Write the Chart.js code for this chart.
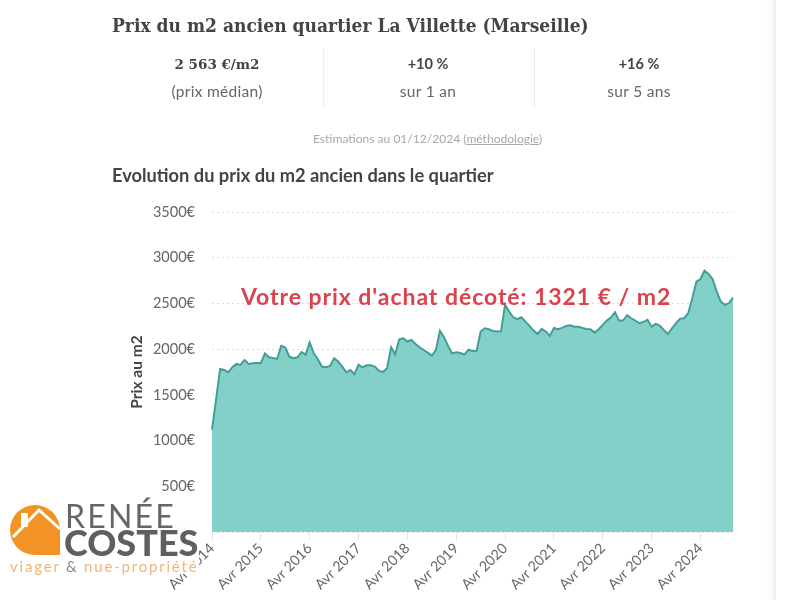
<!DOCTYPE html>
<html lang="fr">
<head>
<meta charset="utf-8">
<title>Prix du m2 ancien quartier La Villette (Marseille)</title>
<script src="https://cdn.jsdelivr.net/npm/chart.js@4"></script>
<style>
    html, body { margin: 0; padding: 0; background: #fff; }
    body { width: 800px; height: 600px; position: relative; overflow: hidden; font-family: Lato, sans-serif; color: #444; }
    #prixChart { position: absolute; left: 0; top: 0; }
    .txt { position: absolute; white-space: nowrap; }
    .center { transform: translateX(-50%); text-align: center; }
    .slab { font-family: "DejaVu Serif", serif; font-weight: 700; color: #444; }
    .sep { position: absolute; top: 48px; width: 1px; height: 60px; background: #ececec; }
    .sub { font-size: 15.5px; color: #666; letter-spacing: .3px; }
    #bande { position: absolute; left: 766px; top: 0; width: 10px; height: 600px; background: linear-gradient(to right, #fff, #f8f3ef 80%, #f2e8e1); }
    #logo { position: absolute; left: 4px; top: 500px; width: 195px; height: 74px; background: rgba(255,255,255,0.96); }
</style>
</head>
<body>
<canvas id="prixChart" width="800" height="600"></canvas>

<div class="txt slab" style="left:112px;top:15px;font-size:18.5px;transform-origin:0 0;transform:scaleX(.925)">Prix du m2 ancien quartier La Villette (Marseille)</div>

<div class="txt slab center" style="left:217px;top:56px;font-size:13.5px">2 563 €/m2</div>
<div class="txt sub center" style="left:217px;top:82px">(prix médian)</div>
<div class="sep" style="left:323px"></div>
<div class="txt center" style="left:428px;top:55px;font-size:14.5px;font-weight:700">+10 %</div>
<div class="txt sub center" style="left:428px;top:82px">sur 1 an</div>
<div class="sep" style="left:534px"></div>
<div class="txt center" style="left:639px;top:55px;font-size:14.5px;font-weight:700">+16 %</div>
<div class="txt sub center" style="left:639px;top:82px">sur 5 ans</div>

<div class="txt" style="left:313px;top:131px;font-size:12.05px;color:#a8a8a8">Estimations au 01/12/2024 (<span style="text-decoration:underline">méthodologie</span>)</div>
<div class="txt" style="left:112px;top:164px;font-size:18.25px;font-weight:700;color:#444">Evolution du prix du m2 ancien dans le quartier</div>

<div class="txt" style="left:241px;top:282px;font-size:23px;font-weight:700;color:#d9444c;letter-spacing:.95px">Votre prix d'achat décoté: 1321 € / m2</div>

<div id="bande"></div>

<div id="logo">
    <svg width="60" height="60" viewBox="0 0 60 60" style="position:absolute;left:6px;top:5px">
        <path d="M25 0 A25 25 0 1 0 25 50 L50 50 L50 25 A25 25 0 0 0 25 0 Z" fill="#f39325"/>
        <path d="M3 32 L29 5 L50 24" fill="none" stroke="#fff" stroke-width="3"/>
        <rect x="11" y="8" width="7" height="14" fill="#fff"/>
    </svg>
    <div class="txt" style="left:61px;top:-4px;font-size:32px;font-weight:400;color:#666;letter-spacing:2.2px">RENÉE</div>
    <div class="txt" style="left:60px;top:20px;font-size:36px;font-weight:900;color:#5f5f5f">COSTES</div>
    <div class="txt" style="left:6px;top:57px;font-size:15px;color:#f2b479;letter-spacing:1.8px">viager <span style="color:#888">&amp;</span> nue-propriété</div>
</div>

<script>
// Axis labels: one entry per month, April 2014 to December 2024
const categories = [
    'Avr 2014', 'Mai 2014', 'Juin 2014', 'Juil 2014', 'Août 2014', 'Sep 2014', 'Oct 2014', 'Nov 2014', 'Déc 2014', 'Jan 2015', 'Fév 2015', 'Mar 2015',
    'Avr 2015', 'Mai 2015', 'Juin 2015', 'Juil 2015', 'Août 2015', 'Sep 2015', 'Oct 2015', 'Nov 2015', 'Déc 2015', 'Jan 2016', 'Fév 2016', 'Mar 2016',
    'Avr 2016', 'Mai 2016', 'Juin 2016', 'Juil 2016', 'Août 2016', 'Sep 2016', 'Oct 2016', 'Nov 2016', 'Déc 2016', 'Jan 2017', 'Fév 2017', 'Mar 2017',
    'Avr 2017', 'Mai 2017', 'Juin 2017', 'Juil 2017', 'Août 2017', 'Sep 2017', 'Oct 2017', 'Nov 2017', 'Déc 2017', 'Jan 2018', 'Fév 2018', 'Mar 2018',
    'Avr 2018', 'Mai 2018', 'Juin 2018', 'Juil 2018', 'Août 2018', 'Sep 2018', 'Oct 2018', 'Nov 2018', 'Déc 2018', 'Jan 2019', 'Fév 2019', 'Mar 2019',
    'Avr 2019', 'Mai 2019', 'Juin 2019', 'Juil 2019', 'Août 2019', 'Sep 2019', 'Oct 2019', 'Nov 2019', 'Déc 2019', 'Jan 2020', 'Fév 2020', 'Mar 2020',
    'Avr 2020', 'Mai 2020', 'Juin 2020', 'Juil 2020', 'Août 2020', 'Sep 2020', 'Oct 2020', 'Nov 2020', 'Déc 2020', 'Jan 2021', 'Fév 2021', 'Mar 2021',
    'Avr 2021', 'Mai 2021', 'Juin 2021', 'Juil 2021', 'Août 2021', 'Sep 2021', 'Oct 2021', 'Nov 2021', 'Déc 2021', 'Jan 2022', 'Fév 2022', 'Mar 2022',
    'Avr 2022', 'Mai 2022', 'Juin 2022', 'Juil 2022', 'Août 2022', 'Sep 2022', 'Oct 2022', 'Nov 2022', 'Déc 2022', 'Jan 2023', 'Fév 2023', 'Mar 2023',
    'Avr 2023', 'Mai 2023', 'Juin 2023', 'Juil 2023', 'Août 2023', 'Sep 2023', 'Oct 2023', 'Nov 2023', 'Déc 2023', 'Jan 2024', 'Fév 2024', 'Mar 2024',
    'Avr 2024', 'Mai 2024', 'Juin 2024', 'Juil 2024', 'Août 2024', 'Sep 2024', 'Oct 2024', 'Nov 2024', 'Déc 2024'
];

// Median price per m2
const prixM2 = [
    1120, 1450, 1783, 1772, 1747, 1802, 1838, 1827, 1882, 1838, 1845, 1849,
    1849, 1952, 1911, 1904, 1893, 2035, 2017, 1918, 1900, 1911, 1969, 1940,
    2072, 1955, 1889, 1809, 1802, 1816, 1900, 1864, 1809, 1747, 1772, 1725,
    1830, 1802, 1823, 1823, 1809, 1765, 1750, 1790, 2020, 1944, 2108, 2119,
    2083, 2100, 2057, 2020, 1991, 1962, 1929, 1991, 2199, 2130, 2035, 1952,
    1966, 1958, 1940, 1995, 1980, 1980, 2192, 2228, 2217, 2199, 2192, 2195,
    2484, 2411, 2349, 2327, 2349, 2301, 2254, 2203, 2166, 2221, 2192, 2144,
    2232, 2217, 2232, 2254, 2261, 2246, 2246, 2232, 2221, 2217, 2181, 2217,
    2265, 2312, 2345, 2404, 2312, 2312, 2371, 2338, 2312, 2283, 2298, 2320,
    2246, 2276, 2257, 2210, 2166, 2228, 2283, 2334, 2338, 2393, 2557, 2739,
    2765, 2860, 2823, 2765, 2630, 2520, 2484, 2502, 2563
];

const yTicks = [0, 500, 1000, 1500, 2000, 2500, 3000, 3500];

new Chart(document.getElementById('prixChart'), {
    type: 'line',
    data: {
        labels: categories,
        datasets: [{
            label: 'Prix au m2',
            data: prixM2,
            borderColor: '#419f97',
            backgroundColor: '#83d0c9',
            borderWidth: 2,
            fill: true,
            tension: 0,
            pointRadius: 0
        }]
    },
    options: {
        responsive: false,
        animation: false,
        layout: {
            padding: { left: 128, right: 67, top: 212, bottom: 0 }
        },
        plugins: {
            legend: { display: false },
            tooltip: { enabled: false }
        },
        scales: {
            x: {
                border: { display: false },
                afterFit: function(scale) { scale.height = 68; },
                grid: {
                    drawOnChartArea: false,
                    color: '#e4e4e4',
                    tickLength: 8
                },
                ticks: {
                    autoSkip: false,
                    minRotation: 45,
                    maxRotation: 45,
                    padding: 0,
                    color: '#666',
                    font: { family: 'Lato', size: 14.2 },
                    // Only April gets a label and a tick mark
                    callback: function(value) {
                        const label = this.getLabelForValue(value);
                        return label.startsWith('Avr') ? label : null;
                    }
                }
            },
            y: {
                min: 0,
                max: 3500,
                border: { display: false, dash: [2, 3] },
                afterFit: function(scale) { scale.width = 84; },
                afterBuildTicks: function(scale) {
                    scale.ticks = yTicks.map(v => ({ value: v }));
                },
                title: {
                    display: true,
                    text: 'Prix au m2',
                    color: '#444',
                    padding: 0,
                    font: { family: 'Lato', size: 15.5, weight: 'bold' }
                },
                grid: {
                    color: '#dcdcdc',
                    tickLength: 0,
                    drawTicks: false
                },
                ticks: {
                    padding: 17,
                    color: '#666',
                    font: { family: 'Lato', size: 14.5 },
                    callback: function(value) { return value + '€'; }
                }
            }
        }
    }
});
</script>
</body>
</html>
